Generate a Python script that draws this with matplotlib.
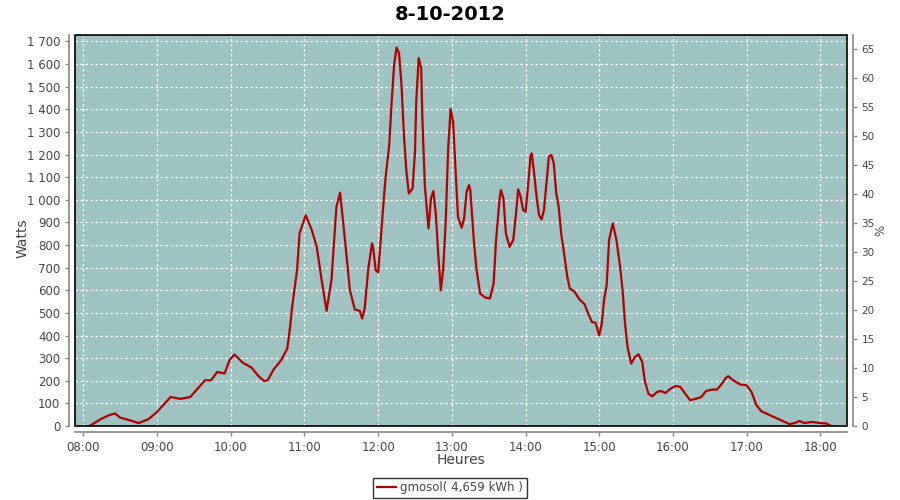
import matplotlib
matplotlib.use("Agg")
import matplotlib.pyplot as plt
from matplotlib.patches import Rectangle

# minutes after 08:00 and power in watts
minutes = [5, 15, 22, 26, 30, 38, 45, 53, 60, 65, 71, 79, 87, 95, 99, 104, 109, 115, 119, 123,
           130, 137, 142, 147, 150, 155, 161, 166, 168, 170, 174, 176, 181, 186, 190, 194, 198, 202,
           206, 209, 213, 217, 221, 225, 227, 229, 232, 235, 236, 238, 240, 242, 244, 246, 249, 251,
           253, 255, 257, 259, 261, 263, 265, 268, 270, 271, 273, 275, 276, 278, 280, 281, 283, 285,
           287, 289, 291, 293, 295, 297, 299, 301, 303, 305, 308, 310, 312, 314, 315, 318, 320, 323,
           327, 331, 334, 336, 339, 340, 342, 344, 347, 350, 352, 354, 356, 358, 360, 362, 364, 365,
           367, 369, 371, 373, 375, 377, 379, 381, 383, 385, 387, 389, 391, 394, 396, 400, 404, 408,
           411, 414, 417, 420, 422, 424, 426, 428, 431, 434, 437, 439, 441, 443, 446, 449, 452, 455,
           457, 460, 463, 467, 470, 474, 478, 482, 486, 490, 494, 499, 503, 507, 512, 516, 520, 523,
           525, 529, 535, 540, 544, 548, 552, 558, 563, 569, 575, 579, 583, 587, 593, 600, 605, 609]
watts = [0, 33, 50, 55, 37, 25, 13, 30, 62, 92, 128, 120, 128, 177, 202, 202, 239, 232, 291, 316,
         279, 258, 224, 199, 202, 250, 291, 342, 423, 527, 689, 851, 932, 866, 792, 645, 509, 645,
         969, 1031, 822, 600, 515, 509, 475, 519, 696, 807, 785, 689, 679, 814, 962, 1095, 1242, 1434,
         1596, 1673, 1648, 1508, 1286, 1124, 1028, 1050, 1212, 1434, 1626, 1582, 1360, 1065, 932, 873, 1006, 1039,
         932, 755, 600, 696, 903, 1227, 1401, 1345, 1139, 925, 876, 918, 1035, 1065, 1043, 814, 696, 586,
         568, 564, 630, 822, 1013, 1043, 1006, 851, 792, 822, 925, 1046, 1013, 955, 947, 1058, 1190, 1205,
         1117, 1013, 932, 913, 955, 1073, 1190, 1198, 1161, 1028, 969, 851, 777, 659, 608, 593, 559, 539,
         497, 460, 456, 401, 450, 560, 620, 822, 896, 822, 704, 600, 453, 350, 276, 305, 317, 283,
         202, 143, 131, 150, 155, 146, 165, 177, 173, 143, 114, 121, 128, 155, 161, 161, 188, 212,
         220, 202, 183, 180, 150, 92, 65, 50, 37, 22, 8, 13, 22, 13, 18, 13, 11, 0]

tick_minutes = [0, 60, 120, 180, 240, 300, 360, 420, 480, 540, 600]
tick_labels = ["08:00", "09:00", "10:00", "11:00", "12:00", "13:00", "14:00",
               "15:00", "16:00", "17:00", "18:00"]
watt_ticks = list(range(0, 1701, 100))
pct_ticks = list(range(0, 66, 5))
series_label = "gmosol( 4,659 kWh )"
title = "8-10-2012"

BG = "#9fc3c3"
LINE = "#b20000"
TXT = "#444444"
AXC = "#888888"

fig = plt.figure(figsize=(9, 5), dpi=100)
ax = fig.add_axes([75/900, 74/500, 772/900, 390.7/500])
ax.set_facecolor(BG)

ln, = ax.plot(minutes, watts, color=LINE, lw=1.6, label=series_label)
ax.set_xlim(-6.8, 621.7)
ax.set_ylim(0, 1727)

ax.set_xticks(tick_minutes)
ax.set_xticklabels(tick_labels)
ax.set_yticks(watt_ticks)
ax.set_yticklabels([f"{v:,}".replace(",", "\u00a0") for v in watt_ticks])

ax.grid(True, color="white", linestyle=(0, (2, 2)), linewidth=0.9)
ax.set_axisbelow(True)

for s in ["top", "right"]:
    ax.spines[s].set_visible(False)
for s in ["left", "bottom"]:
    ax.spines[s].set_position(("outward", 4))
    ax.spines[s].set_color(AXC)
    ax.spines[s].set_linewidth(1.2)
ax.tick_params(axis="both", colors=AXC, labelcolor=TXT, labelsize=8.5, length=3, width=1)

ax.add_patch(Rectangle((0, 0), 1, 1, transform=ax.transAxes, fill=False,
                       edgecolor="black", linewidth=1.2, zorder=5, clip_on=False))

ax.set_ylabel("Watts", fontsize=10, color=TXT)
ax.yaxis.set_label_coords(-0.059, 0.48)
ax.set_xlabel("Heures", fontsize=10, color=TXT)
ax.xaxis.set_label_coords(0.5, -0.068)

ax2 = ax.twinx()
ax2.set_ylim(0, 67.4)
ax2.set_yticks(pct_ticks)
for s in ["top", "left", "bottom"]:
    ax2.spines[s].set_visible(False)
ax2.spines["right"].set_position(("outward", 4))
ax2.spines["right"].set_color(AXC)
ax2.spines["right"].set_linewidth(1.2)
ax2.tick_params(axis="y", colors=AXC, labelcolor=TXT, labelsize=7.5, length=3, width=1)
ax2.set_ylabel("%", fontsize=8.5, color=TXT)
ax2.yaxis.set_label_coords(1.036, 0.5)

fig.suptitle(title, fontsize=14, fontweight="bold", y=0.99)

leg = fig.legend(handles=[ln], loc="center", bbox_to_anchor=(0.5, 0.024),
                 fontsize=8.5, frameon=True, fancybox=False, handlelength=1.6,
                 handletextpad=0.4, borderpad=0.3)
leg.get_frame().set_edgecolor("black")
leg.get_frame().set_linewidth(1)
for t in leg.get_texts():
    t.set_color(TXT)

fig.savefig("out.png", dpi=100)
